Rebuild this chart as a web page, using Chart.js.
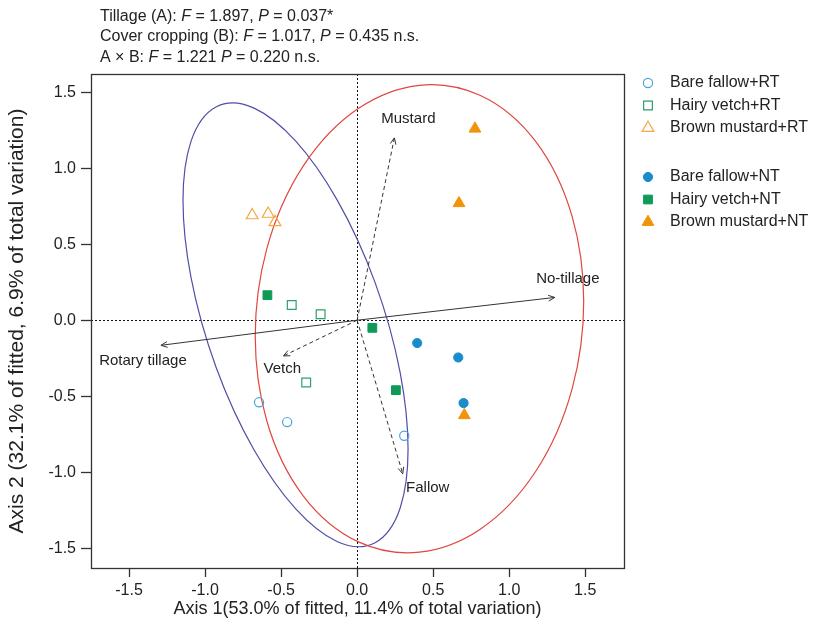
<!DOCTYPE html>
<html>
<head>
<meta charset="utf-8">
<script src="https://cdn.jsdelivr.net/npm/chart.js@4/dist/chart.umd.min.js"></script>
<style>
  html, body { margin: 0; padding: 0; background: #fff; }
  #wrap { width: 813px; height: 631px; }
</style>
</head>
<body>
<div id="wrap"><canvas id="pcoa" width="813" height="631"></canvas></div>
<script>
// Sample scores (axis 1, axis 2)
const bareFallowRTx = [-0.645, -0.46, 0.31];
const bareFallowRTy = [-0.54, -0.67, -0.76];
const hairyVetchRTx = [-0.43, -0.24, -0.335];
const hairyVetchRTy = [0.10, 0.04, -0.41];
const brownMustardRTx = [-0.69, -0.585, -0.54];
const brownMustardRTy = [0.69, 0.70, 0.645];
const bareFallowNTx = [0.395, 0.665, 0.70];
const bareFallowNTy = [-0.15, -0.245, -0.545];
const hairyVetchNTx = [-0.59, 0.10, 0.255];
const hairyVetchNTy = [0.165, -0.05, -0.46];
const brownMustardNTx = [0.775, 0.67, 0.705];
const brownMustardNTy = [1.26, 0.77, -0.625];

// Treatment vectors
const vectorNames = ['No-tillage', 'Rotary tillage', 'Mustard', 'Vetch', 'Fallow'];
const vectorX = [1.30, -1.29, 0.245, -0.485, 0.30];
const vectorY = [0.15, -0.165, 1.20, -0.235, -1.01];

// Group ellipses: RT (blue) and NT (red)
const ellipseCenterX = [-0.405, 0.41];
const ellipseCenterY = [-0.03, 0.01];
const ellipseHalfX = [0.74, 1.08];
const ellipseHalfY = [1.46, 1.54];
const ellipseRho = [-0.56, 0.074];

// Axis ticks
const xTickValues = [-1.5, -1.0, -0.5, 0.0, 0.5, 1.0, 1.5];
const yTickValues = [-1.5, -1.0, -0.5, 0.0, 0.5, 1.0, 1.5];

const headerLines = [
  [['Tillage (A): ', false], ['F', true], [' = 1.897, ', false], ['P', true], [' = 0.037*', false]],
  [['Cover cropping (B): ', false], ['F', true], [' = 1.017, ', false], ['P', true], [' = 0.435 n.s.', false]],
  [['A \u00D7 B: ', false], ['F', true], [' = 1.221 ', false], ['P', true], [' = 0.220 n.s.', false]]
];

const FONT = '"Liberation Sans", Arial, Helvetica, sans-serif';
const TEXT = '#222';

const blue = '#1a8ccb', blueLight = '#46a6d9';
const green = '#0f9a58', greenLight = '#2fa06c';
const orange = '#f0940c', orangeLight = '#f2a844';

function pts(xs, ys) {
  return xs.map((x, i) => ({ x: x, y: ys[i] }));
}

function group(label, xs, ys, style, color, filled) {
  const r = style === 'circle' ? 4.6 : (style === 'rect' ? 6.2 : 6.8);
  return {
    label: label,
    data: pts(xs, ys),
    pointStyle: style,
    pointRadius: r,
    pointBorderWidth: filled ? 1 : 1.2,
    borderColor: color,
    backgroundColor: filled ? color : 'rgba(255,255,255,0)',
    order: 1
  };
}

const groups = [
  group('Bare fallow+RT', bareFallowRTx, bareFallowRTy, 'circle', blueLight, false),
  group('Hairy vetch+RT', hairyVetchRTx, hairyVetchRTy, 'rect', greenLight, false),
  group('Brown mustard+RT', brownMustardRTx, brownMustardRTy, 'triangle', orangeLight, false),
  group('Bare fallow+NT', bareFallowNTx, bareFallowNTy, 'circle', blue, true),
  group('Hairy vetch+NT', hairyVetchNTx, hairyVetchNTy, 'rect', green, true),
  group('Brown mustard+NT', brownMustardNTx, brownMustardNTy, 'triangle', orange, true)
];

const vectorDashed = [false, false, true, true, true];
// label centre offset from the arrow tip, in pixels
const vectorLabelOffset = [[13, -19], [-18, 16], [14, -19], [-1, 13], [25, 14]];

const vectors = vectorNames.map((name, i) => ({
  label: name,
  data: [{ x: 0, y: 0 }, { x: vectorX[i], y: vectorY[i] }],
  showLine: true,
  borderColor: '#333',
  borderWidth: 1,
  borderDash: vectorDashed[i] ? [4, 3] : [],
  pointRadius: 0,
  order: 2
}));

const pcoaDecor = {
  id: 'pcoaDecor',
  beforeDatasetsDraw(chart) {
    const { ctx, chartArea: a, scales: { x, y } } = chart;
    ctx.save();
    // zero reference lines
    ctx.strokeStyle = '#111';
    ctx.lineWidth = 1;
    ctx.setLineDash([2, 2]);
    ctx.beginPath();
    const x0 = Math.round(x.getPixelForValue(0)) + 0.5;
    const y0 = Math.round(y.getPixelForValue(0)) + 0.5;
    ctx.moveTo(x0, a.top); ctx.lineTo(x0, a.bottom);
    ctx.moveTo(a.left, y0); ctx.lineTo(a.right, y0);
    ctx.stroke();
    ctx.setLineDash([]);
    // ellipses
    const colors = ['#4f4fa6', '#e0473f'];
    const kx = x.getPixelForValue(1) - x.getPixelForValue(0);
    const ky = y.getPixelForValue(1) - y.getPixelForValue(0);
    ellipseCenterX.forEach((cx, i) => {
      const rho = ellipseRho[i];
      ctx.save();
      ctx.beginPath();
      ctx.transform(kx * ellipseHalfX[i], ky * ellipseHalfY[i] * rho, 0,
        ky * ellipseHalfY[i] * Math.sqrt(1 - rho * rho),
        x.getPixelForValue(cx), y.getPixelForValue(ellipseCenterY[i]));
      ctx.arc(0, 0, 1, 0, Math.PI * 2);
      ctx.restore();
      ctx.strokeStyle = colors[i];
      ctx.lineWidth = 1.2;
      ctx.stroke();
    });
    ctx.restore();
  },
  afterDatasetsDraw(chart) {
    const { ctx, scales: { x, y } } = chart;
    ctx.save();
    const ox = x.getPixelForValue(0), oy = y.getPixelForValue(0);
    vectorNames.forEach((name, i) => {
      const tx = x.getPixelForValue(vectorX[i]);
      const ty = y.getPixelForValue(vectorY[i]);
      const ang = Math.atan2(ty - oy, tx - ox);
      const len = 7, spread = 0.42;
      ctx.strokeStyle = '#333';
      ctx.lineWidth = 1;
      ctx.beginPath();
      ctx.moveTo(tx - len * Math.cos(ang - spread), ty - len * Math.sin(ang - spread));
      ctx.lineTo(tx, ty);
      ctx.lineTo(tx - len * Math.cos(ang + spread), ty - len * Math.sin(ang + spread));
      ctx.stroke();
      ctx.fillStyle = TEXT;
      ctx.font = '15px ' + FONT;
      ctx.textAlign = 'center';
      ctx.textBaseline = 'middle';
      ctx.fillText(name, tx + vectorLabelOffset[i][0], ty + vectorLabelOffset[i][1]);
    });
    ctx.restore();
  },
  afterDraw(chart) {
    const { ctx, chartArea: a } = chart;
    ctx.save();
    // frame
    ctx.strokeStyle = '#333';
    ctx.lineWidth = 1.3;
    ctx.strokeRect(Math.round(a.left) + 0.5, Math.round(a.top) + 0.5,
      Math.round(a.right - a.left), Math.round(a.bottom - a.top));

    // header with italic statistics
    ctx.fillStyle = TEXT;
    ctx.textBaseline = 'middle';
    ctx.textAlign = 'left';
    const lineY = [16.5, 37, 57.5];
    headerLines.forEach((segs, li) => {
      let cx = 100;
      segs.forEach(([txt, italic]) => {
        ctx.font = (italic ? 'italic ' : '') + '16px ' + FONT;
        ctx.fillText(txt, cx, lineY[li]);
        cx += ctx.measureText(txt).width;
      });
    });

    // legend (two blocks: RT, NT)
    const rowY = [83, 105.5, 128, 177, 199.5, 222];
    chart.data.datasets.forEach((ds, i) => {
      if (i >= groups.length) return;
      ctx.lineWidth = ds.pointBorderWidth;
      ctx.strokeStyle = ds.borderColor;
      ctx.fillStyle = ds.backgroundColor;
      Chart.helpers.drawPoint(ctx, {
        pointStyle: ds.pointStyle,
        radius: ds.pointRadius,
        borderWidth: ds.pointBorderWidth,
        rotation: 0
      }, 648, rowY[i]);
      ctx.fillStyle = TEXT;
      ctx.font = '16px ' + FONT;
      ctx.fillText(ds.label, 670, rowY[i]);
    });
    ctx.restore();
  }
};

function fixTicks(values) {
  return scale => { scale.ticks = values.map(v => ({ value: v })); };
}

new Chart(document.getElementById('pcoa'), {
  type: 'scatter',
  data: { datasets: groups.concat(vectors) },
  options: {
    responsive: false,
    animation: false,
    events: [],
    layout: { padding: { top: 74, right: 189, bottom: 0, left: 0 } },
    plugins: { legend: { display: false }, tooltip: { enabled: false } },
    scales: {
      x: {
        type: 'linear',
        position: 'bottom',
        min: -1.75,
        max: 1.755,
        afterBuildTicks: fixTicks(xTickValues),
        afterFit: scale => { scale.height = 63; },
        border: { display: false },
        grid: { drawOnChartArea: false, drawTicks: true, tickLength: 9, tickColor: '#333', tickWidth: 1.3 },
        ticks: { color: TEXT, font: { family: FONT, size: 16 }, padding: 4, callback: v => v.toFixed(1) },
        title: {
          display: true,
          text: 'Axis 1(53.0% of fitted, 11.4% of total variation)',
          color: TEXT,
          font: { family: FONT, size: 18 },
          padding: { top: 0, bottom: 11 }
        }
      },
      y: {
        type: 'linear',
        position: 'left',
        min: -1.63,
        max: 1.62,
        afterBuildTicks: fixTicks(yTickValues),
        afterFit: scale => { scale.width = 91; },
        border: { display: false },
        grid: { drawOnChartArea: false, drawTicks: true, tickLength: 10, tickColor: '#333', tickWidth: 1.3 },
        ticks: { color: TEXT, font: { family: FONT, size: 16 }, padding: 5, callback: v => v.toFixed(1) },
        title: {
          display: true,
          text: 'Axis 2 (32.1% of fitted, 6.9% of total variation)',
          color: TEXT,
          font: { family: FONT, size: 21 },
          padding: { top: 5, bottom: 0 }
        }
      }
    }
  },
  plugins: [pcoaDecor]
});
</script>
</body>
</html>
